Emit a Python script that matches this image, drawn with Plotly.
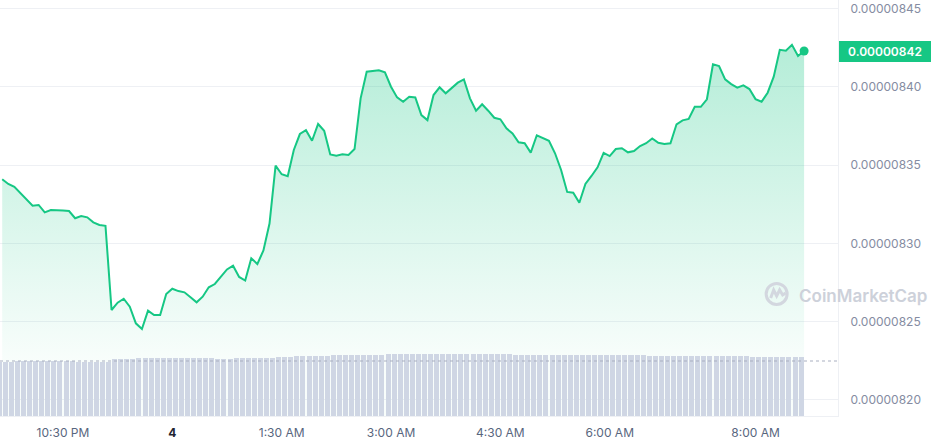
import pandas as pd
import plotly.graph_objects as go

# ---- data ----
start_time = "2024-03-03 21:40"
n_points = 133
# price in units of 1e-8
price_e8 = [834.09, 833.79, 833.61, 833.19, 832.76, 832.40, 832.45, 831.98, 832.13, 832.13,
            832.09, 832.06, 831.60, 831.74, 831.66, 831.34, 831.17, 831.12, 825.74, 826.21,
            826.46, 825.95, 824.89, 824.53, 825.70, 825.42, 825.42, 826.76, 827.10, 826.95,
            826.87, 826.55, 826.23, 826.59, 827.19, 827.40, 827.87, 828.33, 828.57, 827.85,
            827.62, 829.04, 828.68, 829.54, 831.26, 834.96, 834.41, 834.28, 835.96, 836.98,
            837.22, 836.55, 837.62, 837.19, 835.68, 835.59, 835.68, 835.64, 836.02, 839.26,
            840.96, 841.02, 841.05, 840.92, 840.00, 839.32, 839.04, 839.36, 839.32, 838.19,
            837.87, 839.47, 839.96, 839.58, 839.90, 840.26, 840.47, 839.26, 838.47, 838.88,
            838.47, 838.02, 837.92, 837.34, 837.02, 836.45, 836.39, 835.79, 836.90, 836.74,
            836.55, 835.75, 834.68, 833.28, 833.23, 832.59, 833.79, 834.30, 834.85, 835.78,
            835.57, 836.02, 836.07, 835.81, 835.89, 836.21, 836.39, 836.70, 836.42, 836.34,
            836.39, 837.60, 837.85, 837.94, 838.72, 838.72, 839.20, 841.43, 841.32, 840.47,
            840.17, 839.94, 840.09, 839.85, 839.21, 839.04, 839.62, 840.64, 842.36, 842.30,
            842.68, 841.96, 842.28]
# volume (relative units)
volume = ([54.3] * 3 + [55.5] * 5 + [54.7] * 3 + [55.3] * 2 + [54.5] * 6 + [56.7] * 4 +
          [58.0] * 13 + [56.7] * 3 + [57.8] * 7 + [59.0] * 3 + [60.0] * 6 + [61.0] * 9 +
          [62.0] * 21 + [61.0] * 22 + [60.0] * 17 + [59.0] * 9)
vol_ref = 55.0

x_tick_times = ["2024-03-03 22:30", "2024-03-04 00:00", "2024-03-04 01:30", "2024-03-04 03:00",
                "2024-03-04 04:30", "2024-03-04 06:00", "2024-03-04 08:00"]
x_tick_text = ["10:30 PM", "<b><span style='color:#222531'>4</span></b>", "1:30 AM", "3:00 AM",
               "4:30 AM", "6:00 AM", "8:00 AM"]
y_tick_e8 = [820, 825, 830, 835, 840, 845]

# ---- derived ----
times = pd.date_range(start_time, periods=n_points, freq="5min")
price = [p * 1e-8 for p in price_e8]
y_ticks = [v * 1e-8 for v in y_tick_e8]
y_tick_text = [f"{v:.8f}" for v in y_ticks]

GREEN = "#16c784"
GRID = "#eef0f4"

fig = go.Figure()

fig.add_trace(go.Scatter(
    x=times, y=price, mode="lines",
    line=dict(color=GREEN, width=2),
    fill="tozeroy",
    fillgradient=dict(type="vertical",
                      colorscale=[[0, "rgba(22,199,132,0.03)"], [1, "rgba(22,199,132,0.32)"]],
                      start=822.5e-8, stop=842.7e-8),
    hoverinfo="skip",
))
fig.add_trace(go.Scatter(
    x=[times[-1]], y=[price[-1]], mode="markers",
    marker=dict(color=GREEN, size=9), hoverinfo="skip",
))
bar_w = 247000
fig.add_trace(go.Bar(
    x=times, y=volume, yaxis="y2",
    marker=dict(color="#cfd6e4", line=dict(width=0)),
    width=bar_w, offset=-bar_w - 25000, hoverinfo="skip",
))

fig.add_shape(type="line", xref="paper", x0=0, x1=1, yref="y2", y0=vol_ref, y1=vol_ref,
              line=dict(color="#a9afc0", width=1, dash="dot"), layer="above")

# watermark logo + text
fig.add_shape(type="circle", xref="paper", yref="paper", xsizemode="pixel", ysizemode="pixel",
              xanchor=0.9268, yanchor=0.2933, x0=-10.5, x1=10.5, y0=-10.5, y1=10.5,
              line=dict(color="#d3d7df", width=3), layer="above")
fig.add_shape(type="path", xref="paper", yref="paper", xsizemode="pixel", ysizemode="pixel",
              xanchor=0.9268, yanchor=0.2933,
              path="M -6 -4 L -3 4 L 0 -2 L 3 4 L 6 -1 L 9 1",
              line=dict(color="#d3d7df", width=3), layer="above")
fig.add_annotation(text="CoinMarketCap", xref="paper", yref="paper", x=0.951, y=0.2885,
                   xanchor="left", yanchor="middle", showarrow=False,
                   font=dict(family="Inter", size=17, color="#cdd1da", weight=600))

# current price label
fig.add_annotation(text=f"{price[-1]:.8f}", xref="paper", x=1, xanchor="left", xshift=1,
                   yref="y", y=price[-1], yanchor="middle", showarrow=False,
                   bgcolor=GREEN, borderwidth=0, borderpad=1, width=90, height=19,
                   font=dict(family="Inter", size=12, color="white", weight=600))

fig.update_layout(
    width=931, height=445,
    margin=dict(l=0, r=93, t=0, b=29),
    paper_bgcolor="white", plot_bgcolor="white",
    showlegend=False, hovermode=False,
    bargap=0,
    font=dict(family="Inter"),
    xaxis=dict(type="date", range=["2024-03-03 21:38:11", "2024-03-04 09:07:54"],
               showgrid=False, zeroline=False, showline=True, linecolor=GRID,
               tickvals=x_tick_times, ticktext=x_tick_text, ticks="",
               ticklabelstandoff=6,
               tickfont=dict(family="Inter", size=12, color="#58667e")),
    yaxis=dict(side="right", range=[818.97e-8, 845.54e-8],
               tickvals=y_ticks, ticktext=y_tick_text, ticks="",
               showgrid=True, gridcolor=GRID, gridwidth=1,
               zeroline=False, showline=True, linecolor=GRID,
               ticklabelstandoff=9,
               tickfont=dict(family="Inter", size=12, color="#858ca2")),
    yaxis2=dict(overlaying="y", range=[0, 416], visible=False),
)

fig.write_html("out.html", config={"displayModeBar": False},
               post_script="document.body.style.margin='0';")
